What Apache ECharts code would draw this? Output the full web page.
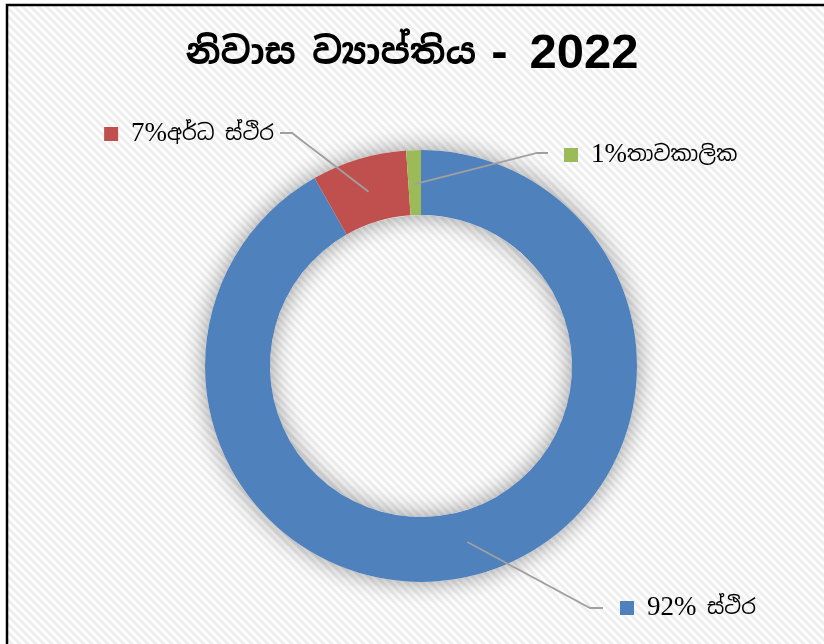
<!DOCTYPE html>
<html>
<head>
<meta charset="utf-8">
<script src="https://cdn.jsdelivr.net/npm/echarts@6/dist/echarts.min.js"></script>
<style>
  html, body { margin: 0; padding: 0; background: #fff; }
  #main { width: 824px; height: 644px; }
</style>
</head>
<body>
<div id="main"></div>
<script>
// chart data
var titleWords = ["නිවාස", "ව්‍යාප්තිය"];
var titleYear = "2022";
var categories = ["ස්ථිර", "අර්ධ ස්ථිර", "තාවකාලික"];
var values = [91.8, 7.1, 1.1];
var colors = ["#4F81BD", "#C0504D", "#9BBB59"];

// diagonal stripe pattern for the plot background
var pat = document.createElement("canvas");
pat.width = 8;
pat.height = 8;
var pctx = pat.getContext("2d");
pctx.fillStyle = "#ffffff";
pctx.fillRect(0, 0, 8, 8);
pctx.strokeStyle = "#eeeeee";
pctx.lineWidth = 3;
pctx.beginPath();
pctx.moveTo(-2, -2); pctx.lineTo(10, 10);
pctx.moveTo(-6, 2); pctx.lineTo(6, 14);
pctx.moveTo(2, -6); pctx.lineTo(14, 6);
pctx.stroke();

var chartDom = document.getElementById("main");
var myChart = echarts.init(chartDom);

var cx = 421, cy = 366, r0 = 151, r1 = 216;
var serif = '"Liberation Serif", "Times New Roman", serif';
var sinhala = '"Noto Sans Sinhala", "Noto Serif Sinhala", sans-serif';
var narrow = '"Liberation Sans Narrow", "Liberation Sans", sans-serif';

// where each label sits and where its leader line bends
var labelSpots = [
  { x: 620, y: 608, align: "left", elbow: [590, 608], end: [603, 608] },
  { x: 274, y: 134, align: "right", elbow: [292, 133], end: [280, 133] },
  { x: 564, y: 155, align: "left", elbow: [537, 153], end: [548, 153] }
];

function sliceData(transparent) {
  return categories.map(function (name, i) {
    return { name: name, value: values[i], itemStyle: { color: transparent ? "rgba(0,0,0,0)" : colors[i] } };
  });
}

var option = {
  backgroundColor: "#ffffff",
  animation: false,
  graphic: [
    {
      type: "rect",
      z: -10,
      shape: { x: 7, y: 5, width: 900, height: 900 },
      style: { fill: { image: pat, repeat: "repeat" }, stroke: "#000", lineWidth: 2.5 }
    }
  ],
  title: {
    text: "{s|" + titleWords[0] + "}{g|}{s|" + titleWords[1] + "}{g2|}{n|-}{g3|}{n|" + titleYear + "}",
    left: "center",
    top: 24,
    textStyle: {
      rich: {
        s: { fontSize: 36, fontWeight: "bold", color: "#000", fontFamily: sinhala, height: 50, verticalAlign: "bottom", padding: [0, 0, 0, 0] },
        g: { width: 16, height: 50 },
        g2: { width: 15, height: 50 },
        g3: { width: 22, height: 50 },
        n: { fontSize: 49, fontWeight: "bold", color: "#000", fontFamily: narrow, height: 50, verticalAlign: "bottom" }
      }
    }
  },
  series: [
    {
      // soft shadow under the ring
      type: "pie",
      silent: true,
      center: [cx, cy],
      radius: [r0, r1],
      label: { show: false },
      labelLine: { show: false },
      itemStyle: { color: "#fff", shadowBlur: 24, shadowColor: "rgba(0,0,0,0.4)" },
      data: [{ value: 1, name: "" }],
      z: 1
    },
    {
      name: "නිවාස",
      type: "pie",
      center: [cx, cy],
      radius: [r0, r1],
      startAngle: 90,
      clockwise: true,
      z: 2,
      data: sliceData(false),
      label: { show: false },
      labelLine: { show: false }
    },
    {
      // same slices, transparent, so labels and leader lines sit on top
      name: "labels",
      type: "pie",
      silent: true,
      center: [cx, cy],
      radius: [r0, r1],
      startAngle: 90,
      clockwise: true,
      z: 3,
      data: sliceData(true),
      label: {
        show: true,
        position: "outside",
        formatter: function (p) {
          var sep = p.dataIndex === 0 ? " " : "";
          return "{sq" + p.dataIndex + "|}{g|}{num|" + Math.round(p.percent) + "%}{sin|" + sep + p.name + "}";
        },
        rich: {
          sq0: { width: 14, height: 14, backgroundColor: colors[0] },
          sq1: { width: 14, height: 14, backgroundColor: colors[1] },
          sq2: { width: 14, height: 14, backgroundColor: colors[2] },
          g: { width: 13 },
          num: { fontSize: 27, color: "#000", fontFamily: serif },
          sin: { fontSize: 21, color: "#000", fontFamily: sinhala }
        }
      },
      labelLine: {
        show: true,
        showAbove: true,
        lineStyle: { color: "#a0a0a0", width: 1.8 }
      },
      labelLayout: function (params) {
        var s = labelSpots[params.dataIndex];
        var p0 = params.labelLinePoints ? params.labelLinePoints[0] : [cx, cy];
        var k = 182 / r1;
        var start = [cx + (p0[0] - cx) * k, cy + (p0[1] - cy) * k];
        return {
          x: s.x,
          y: s.y,
          align: s.align,
          verticalAlign: "middle",
          labelLinePoints: [start, s.elbow, s.end]
        };
      }
    }
  ]
};

option && myChart.setOption(option);
</script>
</body>
</html>
